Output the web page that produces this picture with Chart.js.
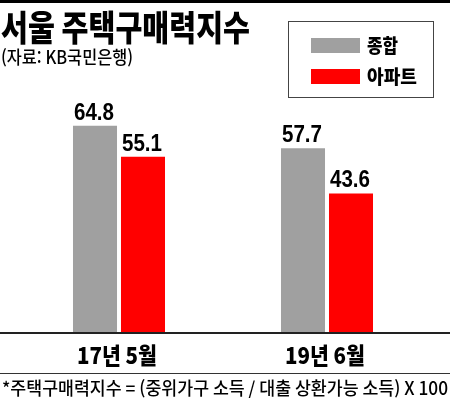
<!DOCTYPE html>
<html lang="ko">
<head>
<meta charset="UTF-8">
<title>서울 주택구매력지수</title>
<style>
  body { margin: 0; background: #fff; }
  canvas { display: block; }
</style>
</head>
<body>
<canvas id="myChart" width="450" height="401"></canvas>
<script src="https://cdn.jsdelivr.net/npm/chart.js"></script>
<script>
// data
const categories = ['17년 5월', '19년 6월'];
const seriesNames = ['종합', '아파트'];
const totalValues = [64.8, 57.7];
const aptValues = [55.1, 43.6];

const titleText = '서울 주택구매력지수';
const sourceText = '(자료: KB국민은행)';
const noteText = '*주택구매력지수 = (중위가구 소득 / 대출 상환가능 소득) X 100';

const KR = '"Noto Sans CJK KR", "Noto Sans", sans-serif';
const NUM = '"Liberation Sans", Arial, sans-serif';

// draws text squeezed to a given width
function fitText(ctx, text, x, y, font, width, align) {
    ctx.save();
    ctx.font = font;
    const w = ctx.measureText(text).width;
    const s = width / w;
    ctx.translate(x, y);
    ctx.scale(s, 1);
    ctx.textAlign = align || 'left';
    ctx.textBaseline = 'alphabetic';
    ctx.fillStyle = '#000';
    ctx.fillText(text, 0, 0);
    ctx.restore();
}

const decor = {
    id: 'decor',
    afterDraw(chart) {
        const ctx = chart.ctx;
        const W = chart.width;
        const xs = chart.scales.x;
        const bottom = chart.chartArea.bottom;

        // top rule
        ctx.fillStyle = '#000';
        ctx.fillRect(0, 0, W, 3);

        // title + source
        fitText(ctx, titleText, 1, 41, '900 35px ' + KR, 249);
        fitText(ctx, sourceText, 1, 64, '500 18px ' + KR, 132);

        // legend box
        ctx.strokeStyle = '#444';
        ctx.lineWidth = 1;
        ctx.strokeRect(288.5, 21.5, 145, 76);
        chart.data.datasets.forEach((ds, i) => {
            const y = 38 + i * 31;
            ctx.fillStyle = ds.backgroundColor;
            ctx.fillRect(311, y, 49, 15);
            fitText(ctx, ds.label, 367, y + 15, '900 19px ' + KR, i === 0 ? 31 : 50);
        });

        // value labels
        chart.data.datasets.forEach((ds, i) => {
            chart.getDatasetMeta(i).data.forEach((bar, j) => {
                fitText(ctx, ds.data[j].toFixed(1), bar.x - 1, bar.y - 6, 'bold 24px ' + NUM, 40, 'center');
            });
        });

        // baseline and category labels
        ctx.fillStyle = '#222';
        ctx.fillRect(0, bottom - 1, W, 2);
        categories.forEach((c, i) => {
            fitText(ctx, c, xs.getPixelForValue(i) - 2, 364, '900 23px ' + KR, 80, 'center');
        });
        ctx.fillStyle = '#333';
        ctx.fillRect(0, 373, W, 1);

        // footnote
        fitText(ctx, noteText, 2, 395, '500 18px ' + KR, 446);
    }
};

const data = {
    labels: categories,
    datasets: [{
        label: seriesNames[0],
        data: totalValues,
        backgroundColor: '#a0a0a0'
    }, {
        label: seriesNames[1],
        data: aptValues,
        backgroundColor: '#ff0000'
    }]
};

const config = {
    type: 'bar',
    data,
    options: {
        responsive: false,
        animation: false,
        layout: { padding: { left: 15, right: 19, top: 77, bottom: 68 } },
        datasets: {
            bar: { categoryPercentage: 0.4615, barPercentage: 0.917 }
        },
        scales: {
            x: { display: false },
            y: { display: false, min: 0, max: 80 }
        },
        plugins: {
            legend: { display: false },
            tooltip: { enabled: false }
        }
    },
    plugins: [decor]
};

const myChart = new Chart(document.getElementById('myChart'), config);
</script>
</body>
</html>
